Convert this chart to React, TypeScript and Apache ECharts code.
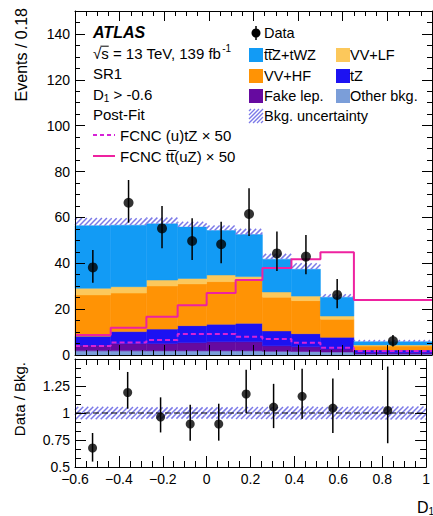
import React, { useEffect, useRef } from 'react';
import * as echarts from 'echarts';

// ---------------- data ----------------
const binEdges = [-0.6, -0.44, -0.28, -0.14, -0.01, 0.12, 0.24, 0.37, 0.5, 0.65, 1.0];

// stacked backgrounds, bottom to top
const otherBkg = [1.8, 1.8, 1.8, 1.8, 1.8, 1.8, 1.6, 1.5, 1.3, 0.4];
const fakeLep = [2.4, 3.2, 3.2, 3.6, 4.0, 4.0, 2.4, 2.1, 1.3, 0.6];
const tZ = [4.0, 5.2, 6.3, 7.4, 7.6, 8.0, 6.5, 5.7, 5.1, 1.2];
const vvHF = [18.0, 16.8, 18.8, 18.2, 18.6, 18.8, 14.7, 14.4, 7.9, 1.7];
const vvLF = [2.9, 2.8, 2.6, 2.4, 2.9, 1.6, 2.3, 2.0, 1.4, 0.5];
const ttZtWZ = [27.3, 26.8, 24.5, 22.4, 19.4, 18.3, 14.3, 11.7, 8.2, 1.4];
const bkgUncUp = [3.3, 3.0, 2.7, 2.3, 2.2, 2.5, 2.3, 2.6, 1.3, 0.7];

// FCNC signals x 50
const fcncTTuZ = [8.7, 11.9, 16.7, 21.7, 27.0, 32.7, 37.9, 41.8, 44.8, 24.0];
const fcncUtZ = [3.9, 5.4, 6.5, 9.2, 9.2, 8.0, 7.0, 5.3, 3.2, 1.7];

// data
const dataY = [38.2, 66.4, 55.2, 49.7, 48.3, 61.5, 44.3, 42.9, 26.2, 6.1];
const dataErrLo = [6.7, 8.7, 8.7, 8.3, 8.3, 9.6, 7.7, 7.7, 5.8, 2.4];
const dataErrHi = [7.6, 9.9, 9.8, 9.9, 9.8, 11.2, 9.5, 9.4, 6.9, 2.6];

// ratio panel
const ratioY = [0.676, 1.19, 0.963, 0.898, 0.898, 1.176, 1.055, 1.154, 1.046, 1.024];
const ratioErrLo = [0.126, 0.15, 0.143, 0.154, 0.154, 0.176, 0.195, 0.207, 0.231, 0.304];
const ratioErrHi = [0.139, 0.19, 0.182, 0.179, 0.188, 0.224, 0.215, 0.256, 0.274, 0.406];
const ratioUnc = [0.058, 0.055, 0.052, 0.052, 0.052, 0.055, 0.055, 0.06, 0.055, 0.06];

const FAMILY = '"Liberation Sans", Arial, Helvetica, sans-serif';

const C = {
  ttZ: '#129BF5',
  vvLF: '#FCC85B',
  vvHF: '#FF9305',
  tZ: '#1C12F2',
  fake: '#660AA0',
  other: '#7B9ED9',
  hatch: '#7C7AE8',
  fcncSolid: '#EE22A0',
  fcncDash: '#D622D6',
};

function measure(text: string, font: string): number {
  const c = document.createElement('canvas');
  const ctx = c.getContext('2d')!;
  ctx.font = font;
  return ctx.measureText(text).width;
}

function hatchLines(x0: number, y0: number, x1: number, y1: number, step: number, style: any) {
  const els: any[] = [];
  const kStart = Math.ceil((x0 + y0) / step) * step;
  for (let k = kStart; k <= x1 + y1; k += step) {
    const xa = Math.max(x0, k - y1);
    const xb = Math.min(x1, k - y0);
    if (xb > xa) {
      els.push({ type: 'line', shape: { x1: xa, y1: k - xa, x2: xb, y2: k - xb }, style });
    }
  }
  return els;
}

export default function App() {
  const ref = useRef<HTMLDivElement>(null);

  useEffect(() => {
    const chart = echarts.init(ref.current!, undefined, { renderer: 'svg' });
    const n = dataY.length;
    const centers = dataY.map((_, i) => (binEdges[i] + binEdges[i + 1]) / 2);

    const rectItem = (color: string) => (params: any, api: any) => {
      const a = api.coord([api.value(0), api.value(3)]);
      const b = api.coord([api.value(1), api.value(2)]);
      return {
        type: 'rect',
        shape: { x: a[0], y: a[1], width: b[0] - a[0], height: b[1] - a[1] },
        style: { fill: color, stroke: color, lineWidth: 0.5 },
      };
    };
    const hatchItem = (params: any, api: any) => {
      const a = api.coord([api.value(0), api.value(3)]);
      const b = api.coord([api.value(1), api.value(2)]);
      return {
        type: 'group',
        children: hatchLines(a[0], a[1], b[0], b[1], 5, { stroke: C.hatch, lineWidth: 1.5 }),
      };
    };
    const errItem = (params: any, api: any) => {
      const p1 = api.coord([api.value(0), api.value(1)]);
      const p2 = api.coord([api.value(0), api.value(2)]);
      return {
        type: 'line',
        shape: { x1: p1[0], y1: p1[1], x2: p2[0], y2: p2[1] },
        style: { stroke: '#000', lineWidth: 1.5 },
      };
    };

    const layers = [
      { values: otherBkg, color: C.other },
      { values: fakeLep, color: C.fake },
      { values: tZ, color: C.tZ },
      { values: vvHF, color: C.vvHF },
      { values: vvLF, color: C.vvLF },
      { values: ttZtWZ, color: C.ttZ },
    ];
    let base = new Array(n).fill(0);
    const series: any[] = [];
    layers.forEach((layer) => {
      const d = layer.values.map((v, i) => [binEdges[i], binEdges[i + 1], base[i], base[i] + v]);
      base = base.map((b, i) => b + layer.values[i]);
      series.push({
        type: 'custom', xAxisIndex: 0, yAxisIndex: 0, renderItem: rectItem(layer.color), data: d, z: 2,
      });
    });
    const total = base;
    series.push({
      type: 'custom', xAxisIndex: 0, yAxisIndex: 0, renderItem: hatchItem, z: 3,
      data: total.map((t, i) => [binEdges[i], binEdges[i + 1], t, t + bkgUncUp[i]]),
    });
    const stepPts = (vals: number[]) => {
      const pts: number[][] = [];
      vals.forEach((v, i) => { pts.push([binEdges[i], v]); pts.push([binEdges[i + 1], v]); });
      return pts;
    };
    series.push({
      type: 'line', xAxisIndex: 0, yAxisIndex: 0, data: stepPts(fcncUtZ), symbol: 'none', z: 4,
      lineStyle: { color: C.fcncDash, width: 2, type: [5, 3] },
    });
    series.push({
      type: 'line', xAxisIndex: 0, yAxisIndex: 0, data: stepPts(fcncTTuZ), symbol: 'none', z: 4,
      lineStyle: { color: C.fcncSolid, width: 2 },
    });
    series.push({
      type: 'custom', xAxisIndex: 0, yAxisIndex: 0, renderItem: errItem, z: 5,
      data: dataY.map((v, i) => [centers[i], v - dataErrLo[i], v + dataErrHi[i]]),
    });
    series.push({
      type: 'scatter', xAxisIndex: 0, yAxisIndex: 0, symbolSize: 10, z: 6,
      itemStyle: { color: '#000' },
      data: dataY.map((v, i) => [centers[i], v]),
    });

    // ratio panel
    series.push({
      type: 'custom', xAxisIndex: 2, yAxisIndex: 4, renderItem: hatchItem, z: 3,
      data: ratioUnc.map((u, i) => [binEdges[i], binEdges[i + 1], 1 - u, 1 + u]),
    });
    series.push({
      type: 'line', xAxisIndex: 2, yAxisIndex: 4, symbol: 'none', z: 4,
      data: [[binEdges[0], 1], [binEdges[n], 1]],
      lineStyle: { color: '#000', width: 1.2, type: [6, 3] },
    });
    series.push({
      type: 'custom', xAxisIndex: 2, yAxisIndex: 4, renderItem: errItem, z: 5,
      data: ratioY.map((v, i) => [centers[i], v - ratioErrLo[i], v + ratioErrHi[i]]),
    });
    series.push({
      type: 'scatter', xAxisIndex: 2, yAxisIndex: 4, symbolSize: 9, z: 6,
      itemStyle: { color: '#000' },
      data: ratioY.map((v, i) => [centers[i], v]),
    });

    const black = { color: '#000', width: 1 };
    const xAx = (grid: number, pos: string, labels: boolean, major: number, minor: number) => ({
      gridIndex: grid, type: 'value', min: -0.6, max: 1.0, interval: 0.2, position: pos, z: 10,
      axisLine: { show: true, onZero: false, lineStyle: black },
      axisTick: { show: true, inside: true, length: major, lineStyle: black },
      minorTick: { show: true, splitNumber: 4, length: minor, lineStyle: black },
      splitLine: { show: false }, minorSplitLine: { show: false },
      axisLabel: {
        show: labels, color: '#000', fontSize: 14, fontFamily: FAMILY, margin: 5,
        showMinLabel: true, showMaxLabel: true,
        formatter: (v: number) => {
          const r = Math.round(v * 10) / 10;
          return r < 0 ? '\u2212' + String(-r) : String(r);
        },
      },
    });
    const yMain = (pos: string, interval: number, len: number, labels: boolean, line: boolean) => ({
      gridIndex: 0, type: 'value', min: 0, max: 150, interval, position: pos, z: 10,
      axisLine: { show: line, onZero: false, lineStyle: black },
      axisTick: { show: true, inside: true, length: len, lineStyle: black },
      splitLine: { show: false },
      axisLabel: {
        show: labels, color: '#000', fontSize: 14, fontFamily: FAMILY, margin: 5,
        formatter: (v: number) => (v > 145 ? '' : String(v)),
      },
    });
    const yRatio = (pos: string, labels: boolean) => ({
      gridIndex: 1, type: 'value', min: 0.5, max: 1.5, interval: 0.25, position: pos, z: 10,
      axisLine: { show: true, onZero: false, lineStyle: black },
      axisTick: { show: true, inside: true, length: 11, lineStyle: black },
      minorTick: { show: true, splitNumber: 3, length: 6, lineStyle: black },
      splitLine: { show: false }, minorSplitLine: { show: false },
      axisLabel: {
        show: labels, color: '#000', fontSize: 14, fontFamily: FAMILY, margin: 5,
        showMaxLabel: true, showMinLabel: true,
        formatter: (v: number) => (v > 1.45 ? '' : String(v)),
      },
    });

    // ---------------- graphics (legend, texts) ----------------
    const g: any[] = [];
    const txt = (x: number, y: number, text: string, size: number, extra: any = {}) => {
      const font = `${extra.fontStyle || 'normal'} ${extra.fontWeight || 'normal'} ${size}px ${FAMILY}`;
      g.push({
        type: 'text', x, y, z: 100, rotation: extra.rotation || 0,
        style: {
          text, font, fill: '#000',
          align: extra.align || 'left', verticalAlign: 'middle',
          textAlign: extra.align || 'left', textVerticalAlign: 'middle',
        },
      });
      return measure(text, font);
    };
    // axis titles
    txt(21, 8, 'Events / 0.18', 16, { align: 'right', rotation: Math.PI / 2 });
    txt(19, 362, 'Data / Bkg.', 15, { align: 'right', rotation: Math.PI / 2 });
    const wD = txt(417, 507, 'D', 16);
    txt(417 + wD, 511, '1', 10);

    // left text block
    const LX = 93;
    txt(LX, 32, 'ATLAS', 16, { fontStyle: 'italic', fontWeight: 'bold' });
    const wRoot = measure('\u221A', `15px ${FAMILY}`);
    const wS = measure('s', `15px ${FAMILY}`);
    const w2 = txt(LX, 53, '\u221As = 13 TeV, 139 fb', 15);
    g.push({ type: 'line', z: 100, shape: { x1: LX + wRoot - 0.8, y1: 46.2, x2: LX + wRoot + wS, y2: 46.2 }, style: { stroke: '#000', lineWidth: 1 } });
    txt(LX + w2 + 1, 48, '-1', 10);
    txt(LX, 73, 'SR1', 15);
    const wd = txt(LX, 94, 'D', 15);
    const w1 = txt(LX + wd, 98.5, '1', 10);
    txt(LX + wd + w1, 94, ' > -0.6', 15);
    txt(LX, 114, 'Post-Fit', 15);
    g.push({ type: 'line', z: 100, shape: { x1: LX, y1: 135, x2: LX + 22, y2: 135 }, style: { stroke: C.fcncDash, lineWidth: 2, lineDash: [4, 3] } });
    txt(LX + 27, 135, 'FCNC (u)tZ \u00D7 50', 15);
    g.push({ type: 'line', z: 100, shape: { x1: LX, y1: 156, x2: LX + 22, y2: 156 }, style: { stroke: C.fcncSolid, lineWidth: 2 } });
    txt(LX + 27, 156, 'FCNC tt\u0305(uZ) \u00D7 50', 15);

    // right legend
    const BX1 = 249, BX2 = 336, TX1 = 264, TX2 = 350, BW = 14;
    g.push({ type: 'line', z: 100, shape: { x1: 256, y1: 26, x2: 256, y2: 40 }, style: { stroke: '#000', lineWidth: 1.5 } });
    g.push({ type: 'circle', z: 100, shape: { cx: 256, cy: 33, r: 4.5 }, style: { fill: '#000' } });
    txt(TX1, 33, 'Data', 14.5);
    const box = (x: number, yc: number, color: string) => {
      g.push({ type: 'rect', z: 100, shape: { x, y: yc - 7, width: BW, height: 14 }, style: { fill: color } });
    };
    box(BX1, 55, C.ttZ); txt(TX1, 55, 'tt\u0305Z+tWZ', 14.5);
    box(BX2, 55, C.vvLF); txt(TX2, 55, 'VV+LF', 14.5);
    box(BX1, 76, C.vvHF); txt(TX1, 76, 'VV+HF', 14.5);
    box(BX2, 76, C.tZ); txt(TX2, 76, 'tZ', 14.5);
    box(BX1, 96, C.fake); txt(TX1, 96, 'Fake lep.', 14.5);
    box(BX2, 96, C.other); txt(TX2, 96, 'Other bkg.', 14.5);
    hatchLines(BX1, 109, BX1 + BW, 123, 4, { stroke: C.hatch, lineWidth: 1.3 }).forEach((l) => g.push({ ...l, z: 100 }));
    txt(TX1, 116, 'Bkg. uncertainty', 14.5);

    const option: any = {
      animation: false,
      backgroundColor: '#fff',
      grid: [
        { left: 75, right: 1, top: 11, height: 344, containLabel: false },
        { left: 75, right: 1, top: 359, height: 108, containLabel: false },
      ],
      xAxis: [
        xAx(0, 'bottom', false, 10, 5),
        xAx(0, 'top', false, 10, 5),
        xAx(1, 'bottom', true, 11, 6),
        xAx(1, 'top', false, 11, 6),
      ],
      yAxis: [
        yMain('left', 20, 10, true, true),
        yMain('left', 5, 5, false, false),
        yMain('right', 20, 10, false, true),
        yMain('right', 5, 5, false, false),
        yRatio('left', true),
        yRatio('right', false),
      ],
      series,
      graphic: { elements: g },
    };
    chart.setOption(option);
    return () => chart.dispose();
  }, []);

  return (
    <div
      ref={ref}
      style={{ position: 'absolute', left: 0, top: 0, width: 433, height: 516, background: '#fff' }}
    />
  );
}
